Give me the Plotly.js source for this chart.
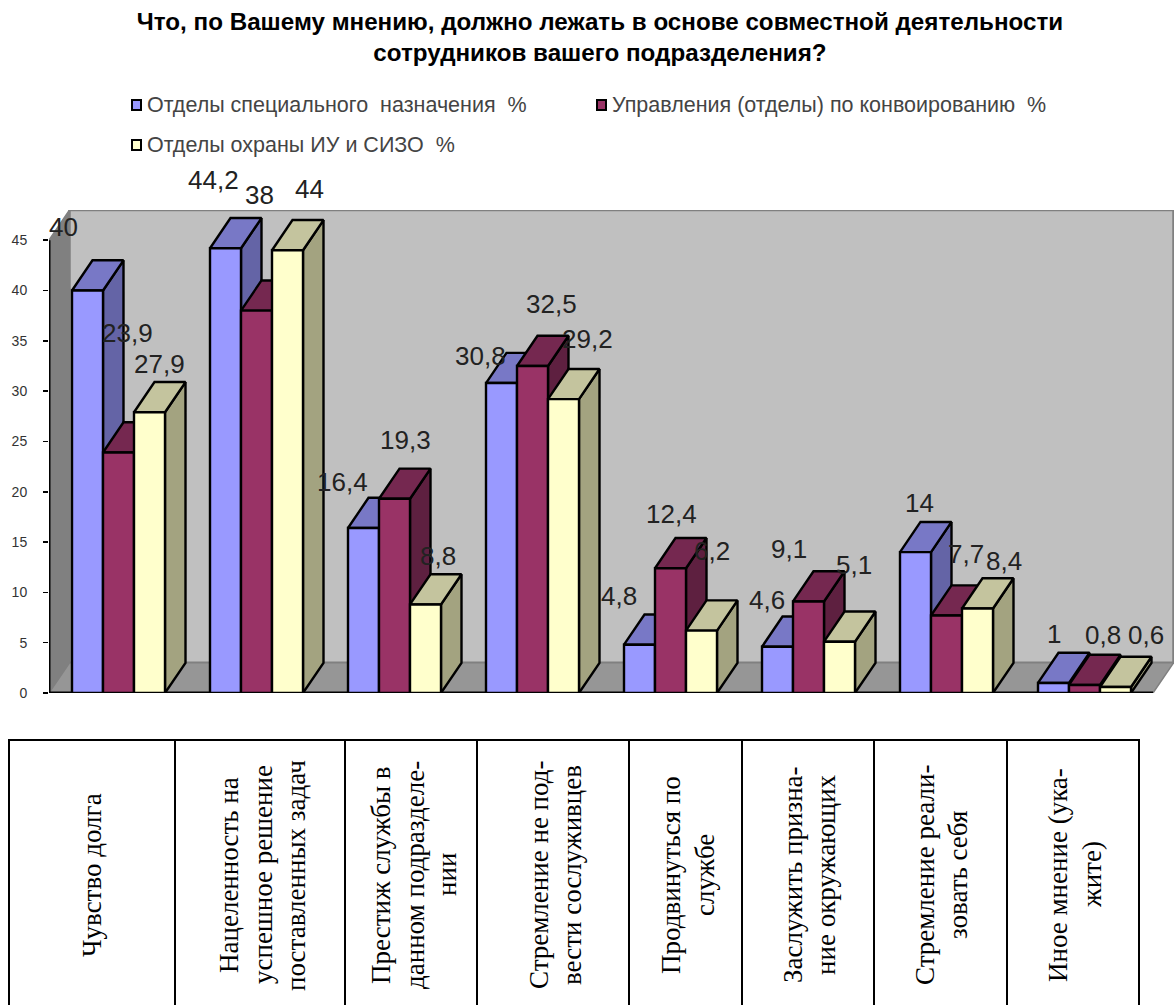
<!DOCTYPE html>
<html>
<head>
<meta charset="utf-8">
<script src="https://cdn.plot.ly/plotly-3.0.1.min.js"></script>
<style>html,body{margin:0;padding:0;background:#fff}#chart{width:1174px;height:1005px}</style>
</head>
<body>
<div id="chart"></div>
<script>
// Survey results, percent of respondents per answer
const titleText = 'Что, по Вашему мнению, должно лежать в основе совместной деятельности<br>сотрудников вашего подразделения?';
const seriesNames = ['Отделы специального  назначения  %', 'Управления (отделы) по конвоированию  %', 'Отделы охраны ИУ и СИЗО  %'];
const specialUnits = [40, 44.2, 16.4, 30.8, 4.8, 4.6, 14, 1];
const convoyUnits = [23.9, 38, 19.3, 32.5, 12.4, 9.1, 7.7, 0.8];
const guardUnits = [27.9, 44, 8.8, 29.2, 6.2, 5.1, 8.4, 0.6];
const seriesValues = [specialUnits, convoyUnits, guardUnits];
const yTicks = [0, 5, 10, 15, 20, 25, 30, 35, 40, 45];

// Answer wording, one entry per line of the rotated table cells
const answerLines = [
  ['Чувство долга'],
  ['Нацеленность на', 'успешное решение', 'поставленных задач'],
  ['Престиж службы в', 'данном подразделе-', 'нии'],
  ['Стремление не под-', 'вести сослуживцев'],
  ['Продвинуться по', 'службе'],
  ['Заслужить призна-', 'ние окружающих'],
  ['Стремление реали-', 'зовать себя'],
  ['Иное мнение (ука-', 'жите)']
];
const answerLineX = [[92], [229, 263, 296], [381, 415, 447], [539, 572], [671, 705], [793, 826], [925, 958], [1058, 1092]];
const tableRules = [9, 175, 345, 477, 629, 742, 874, 1007, 1139];

// Value label nudges from the front top centre of each bar, in pixels
const labelDx = [
  [-24.5, -12.5, -21.5, -21.5, -20.5, -10.5, 3.5, 0],
  [8.5, 2.5, 10.5, 18.5, 0.5, -19.5, 19.5, 18.5],
  [9.5, 21.5, 12.5, 23.5, 10.5, 14.5, 26.5, 30.5]
];
const labelDy = [
  [-64, -68, -46, -27, -49, -47, -49, -49],
  [-120, -116, -59, -62, -54, -52, -62, -50],
  [-48, -61, -48, -60, -80, -77, -47, -52]
];

// Face colours per series
const frontColors = ['#9999FF', '#993366', '#FFFFCC'];
const topColors = ['#7878C6', '#752850', '#C4C49E'];
const sideColors = ['#6464A6', '#5E2040', '#A3A380'];

// Oblique projection of the 3D box, in axis units
const W = 1174, H = 1005;
const depthX = 20.5 / 138, depthY = 3;
const barStart = 23 / 138, barWidth = 31 / 138;
const wallTop = 45;
const slots = specialUnits.length;

function polygons(rows) {
  const x = [], y = [];
  rows.forEach(r => { r.forEach(p => { x.push(p[0]); y.push(p[1]); }); x.push(null); y.push(null); });
  return {x, y};
}
function face(rows, fill, line, width) {
  const p = polygons(rows.map(r => r.concat([r[0]])));
  return {type: 'scatter', mode: 'lines', x: p.x, y: p.y, fill: 'toself', fillcolor: fill,
    line: {color: line, width: width}, hoverinfo: 'skip', showlegend: false, cliponaxis: false};
}

const traces = [];
// Chart box: side wall, back wall and floor
traces.push(face([[[0, 0], [depthX, depthY], [depthX, wallTop + depthY], [0, wallTop]]], '#808080', '#808080', 1.5));
traces.push(face([[[depthX, depthY], [slots + depthX, depthY], [slots + depthX, wallTop + depthY], [depthX, wallTop + depthY]]], '#C0C0C0', '#808080', 2.5));
traces.push(face([[[0, 0], [slots, 0], [slots + depthX, depthY], [depthX, depthY]]], '#969696', '#808080', 1.5));
traces.push({type: 'scatter', mode: 'lines', x: [0, 0, slots], y: [wallTop, 0, 0],
  line: {color: '#000', width: 3}, hoverinfo: 'skip', showlegend: false, cliponaxis: false});

// Bars go left to right inside a cluster so that later ones cover earlier sides
seriesValues.forEach((vals, s) => {
  const left = i => i + barStart + s * barWidth;
  const right = i => left(i) + barWidth;
  traces.push(face(vals.map((v, i) => [[right(i), 0], [right(i) + depthX, depthY], [right(i) + depthX, v + depthY], [right(i), v]]), sideColors[s], '#000', 2.4));
  traces.push(face(vals.map((v, i) => [[left(i), v], [left(i) + depthX, v + depthY], [right(i) + depthX, v + depthY], [right(i), v]]), topColors[s], '#000', 2.4));
  traces.push(face(vals.map((v, i) => [[left(i), 0], [left(i), v], [right(i), v], [right(i), 0]]), frontColors[s], '#000', 2.4));
});

const annotations = [];
// Value labels
seriesValues.forEach((vals, s) => vals.forEach((v, i) => {
  annotations.push({x: i + barStart + (s + 0.5) * barWidth, y: v, xref: 'x', yref: 'y',
    xshift: labelDx[s][i], yshift: -labelDy[s][i], text: String(v).replace('.', ','), showarrow: false,
    xanchor: 'center', yanchor: 'middle', font: {family: 'Liberation Sans, Arial', size: 26, color: '#222'}});
}));
// Legend
const legendEntries = [[147, 105], [612, 105], [147, 145]];
const shapes = [];
seriesNames.forEach((n, s) => {
  const [lx, ly] = legendEntries[s];
  annotations.push({x: lx / W, y: 1 - ly / H, xref: 'paper', yref: 'paper', text: n, showarrow: false, borderpad: 0, borderwidth: 0,
    xanchor: 'left', yanchor: 'middle', font: {family: 'Liberation Sans, Arial', size: 21.5, color: '#444'}});
  shapes.push({type: 'rect', xref: 'paper', yref: 'paper', x0: (lx - 15) / W, x1: (lx - 6) / W,
    y0: 1 - (ly + 5) / H, y1: 1 - (ly - 5) / H, fillcolor: frontColors[s], line: {color: '#000', width: 2}});
});
// Table of answers below the chart
answerLines.forEach((lines, i) => lines.forEach((t, j) => {
  annotations.push({x: answerLineX[i][j] / W, y: 1 - 875 / H, xref: 'paper', yref: 'paper', text: t, showarrow: false,
    textangle: -90, xanchor: 'center', yanchor: 'middle', font: {family: 'Liberation Serif, Times New Roman', size: 27, color: '#000'}});
}));
tableRules.forEach(x => shapes.push({type: 'line', xref: 'paper', yref: 'paper', x0: x / W, x1: x / W, y0: 0, y1: 1 - 740 / H, line: {color: '#000', width: 2}}));
shapes.push({type: 'line', xref: 'paper', yref: 'paper', x0: 8 / W, x1: 1140 / W, y0: 1 - 740 / H, y1: 1 - 740 / H, line: {color: '#000', width: 2}});

const layout = {
  width: W, height: H, margin: {l: 0, r: 0, t: 0, b: 0},
  paper_bgcolor: '#fff', plot_bgcolor: '#fff', showlegend: false,
  title: {text: titleText, x: 600 / W, xanchor: 'center', y: 1 - 29.5 / H, yanchor: 'middle',
    font: {family: 'Liberation Sans, Arial', size: 24.2, color: '#000', weight: 700}},
  xaxis: {domain: [49 / W, 1], range: [0, 1125 / 138], visible: false},
  yaxis: {domain: [(H - 693) / H, (H - 210) / H], range: [0, wallTop + depthY], tickmode: 'array', tickvals: yTicks,
    ticktext: yTicks.map(String), ticks: 'outside', ticklen: 5, tickcolor: '#000', tickwidth: 1.5, ticklabelstandoff: 13,
    showgrid: false, zeroline: false, showline: false, tickfont: {family: 'Liberation Sans, Arial', size: 14, color: '#333'}},
  annotations: annotations, shapes: shapes
};
Plotly.newPlot('chart', traces, layout, {displayModeBar: false, staticPlot: true});
</script>
</body>
</html>
